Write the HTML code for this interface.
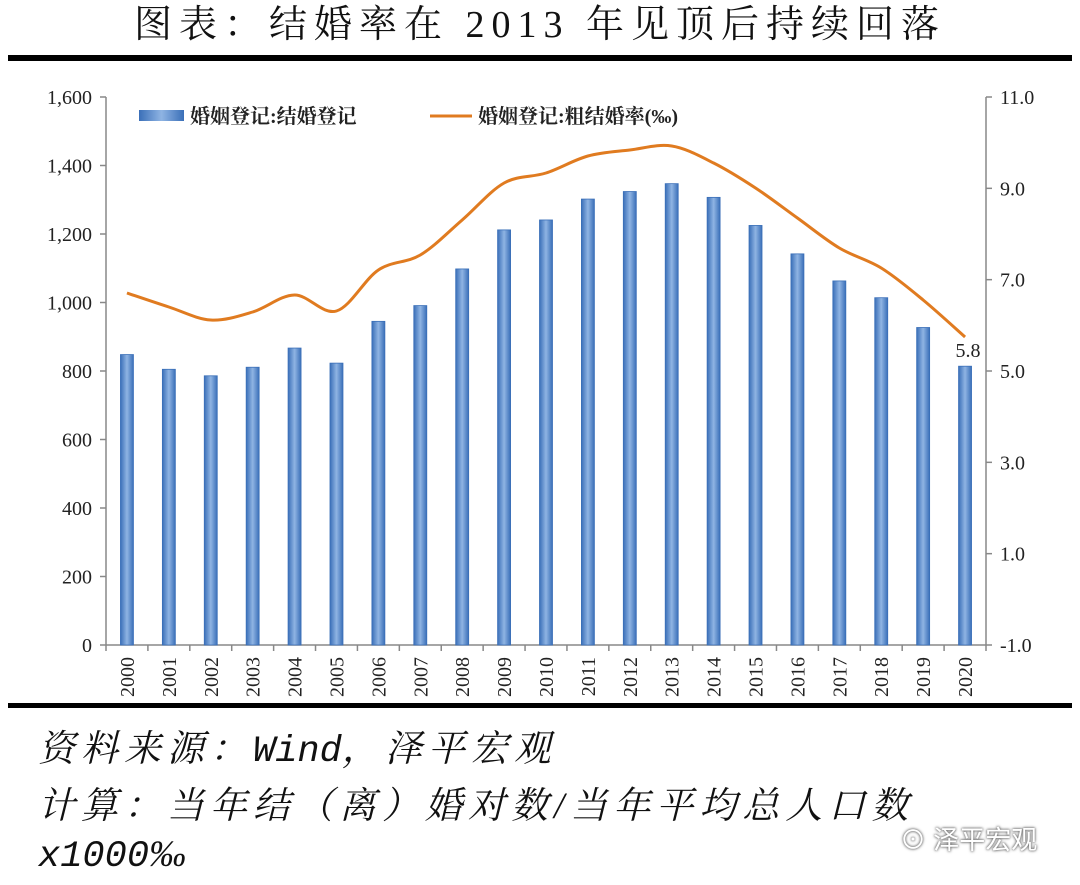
<!DOCTYPE html>
<html><head><meta charset="utf-8">
<style>
body{margin:0;width:1080px;height:885px;background:#fff;overflow:hidden;position:relative;font-family:"Liberation Serif","Noto Serif CJK SC",serif;}
.t{position:absolute;left:0;width:1080px;top:0;text-align:center;font-size:38px;letter-spacing:7px;color:#111;line-height:50px;}
.rule{position:absolute;left:8px;width:1064px;height:6px;background:#000;}
.n{position:absolute;left:38px;font-style:italic;font-size:37px;color:#111;letter-spacing:6px;white-space:nowrap;}
.m{font-family:"Liberation Mono",monospace;letter-spacing:0}
.wm{position:absolute;left:900px;top:820px;font-family:"Liberation Sans","Noto Sans CJK SC",sans-serif;font-size:26px;color:#fff;text-shadow:0 0 3px #666,0 0 2px #666;}
</style></head><body>
<div class="t">图表：结婚率在 2013 年见顶后持续回落</div>
<div class="rule" style="top:55px"></div>
<svg id="c" width="1080" height="885" style="position:absolute;left:0;top:0"></svg>
<div class="rule" style="top:703px;height:5px"></div>
<div class="n" style="top:718px">资料来源：<span class="m">Wind</span>，泽平宏观</div>
<div class="n" style="top:775px">计算：当年结（离）婚对数/当年平均总人口数</div>
<div class="n" style="top:833px"><span class="m">x1000</span>‰</div>
<div class="wm">⊙ 泽平宏观</div>
<script>
var s='',L=106,R=986,T=97,B=645,w=(R-L)/21;
s+='<defs><linearGradient id="g" x1="0" x2="1"><stop offset="0" stop-color="#3a6fb8"/><stop offset="0.5" stop-color="#8fb4e3"/><stop offset="1" stop-color="#3a6fb8"/></linearGradient></defs>';
var bars=[848,805,786,811,867,823,945,991,1098,1212,1241,1302,1324,1347,1307,1225,1142,1063,1014,927,814];
var ly=[293,307,320,312,295,311,270,255,220,183,173,156,150,146,163,188,218,248,268,300,337];
function y1(v){return B-v*(B-T)/1600}
s+='<g stroke="#888" stroke-width="1.5" fill="none"><line x1="'+L+'" y1="'+T+'" x2="'+L+'" y2="'+B+'"/><line x1="'+R+'" y1="'+T+'" x2="'+R+'" y2="'+B+'"/><line x1="'+L+'" y1="'+B+'" x2="'+R+'" y2="'+B+'"/>';
for(var i=0;i<=8;i++){var y=y1(i*200);s+='<line x1="'+(L-6)+'" y1="'+y+'" x2="'+L+'" y2="'+y+'"/>';}
for(var i=0;i<=6;i++){var y=B-i*(B-T)/6;s+='<line x1="'+R+'" y1="'+y+'" x2="'+(R+6)+'" y2="'+y+'"/>';}
for(var i=0;i<=21;i++){var x=L+i*w;s+='<line x1="'+x+'" y1="'+B+'" x2="'+x+'" y2="'+(B+6)+'"/>';}
s+='</g><g font-size="20" fill="#222">';
for(var i=0;i<=8;i++){s+='<text x="'+(L-14)+'" y="'+(y1(i*200)+7)+'" text-anchor="end">'+(i*200).toLocaleString('en-US')+'</text>';}
var rl=['-1.0','1.0','3.0','5.0','7.0','9.0','11.0'];
for(var i=0;i<=6;i++){s+='<text x="'+(R+14)+'" y="'+(B-i*(B-T)/6+7)+'">'+rl[i]+'</text>';}
for(var i=0;i<21;i++){var x=L+w*(i+.5);s+='<text transform="translate('+(x+7)+','+(B+12)+') rotate(-90)" text-anchor="end">'+(2000+i)+'</text>';}
s+='</g>';
for(var i=0;i<21;i++){var x=L+w*(i+.5);s+='<rect x="'+(x-6.5)+'" y="'+y1(bars[i])+'" width="13" height="'+(B-y1(bars[i]))+'" fill="url(#g)" stroke="#3a6fb8" stroke-width="0.8"/>';}
var P=ly.map(function(v,i){return [L+w*(i+.5),v]});
var d='M'+P[0][0]+','+P[0][1];
for(var i=0;i<P.length-1;i++){var p0=P[i-1]||P[i],p1=P[i],p2=P[i+1],p3=P[i+2]||P[i+1];
d+=' C'+(p1[0]+(p2[0]-p0[0])/6)+','+(p1[1]+(p2[1]-p0[1])/6)+' '+(p2[0]-(p3[0]-p1[0])/6)+','+(p2[1]-(p3[1]-p1[1])/6)+' '+p2[0]+','+p2[1];}
s+='<path d="'+d+'" fill="none" stroke="#e07b20" stroke-width="3"/>';
s+='<text x="968" y="357" font-size="20" text-anchor="middle" fill="#222">5.8</text>';
s+='<rect x="139" y="110" width="45" height="11" fill="url(#g)"/>';
s+='<text x="190" y="123" font-size="20" font-weight="bold" fill="#222" font-family="Liberation Serif,Noto Serif CJK SC,serif">婚姻登记:结婚登记</text>';
s+='<line x1="430" y1="116" x2="472" y2="116" stroke="#e07b20" stroke-width="3"/>';
s+='<text x="478" y="123" font-size="20" font-weight="bold" fill="#222" font-family="Liberation Serif,Noto Serif CJK SC,serif">婚姻登记:粗结婚率(‰)</text>';
document.getElementById('c').innerHTML=s;
</script>
</body></html>
